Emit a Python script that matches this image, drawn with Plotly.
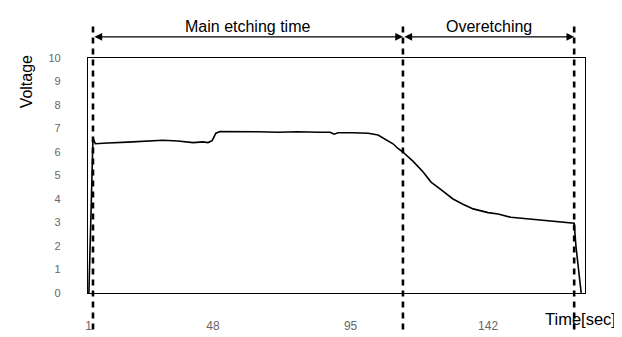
import plotly.graph_objects as go

# Time (s) and measured voltage
time_s = [5.6, 7.0, 7.8, 8.7, 12.1, 18.9, 25.8, 30.9, 36.0, 41.2, 44.6, 46.3, 47.7, 49.0, 50.4,
          56.5, 63.4, 70.2, 77.0, 83.9, 88.0, 89.4, 90.7, 95.8, 101.0, 104.4, 106.8, 109.5,
          111.2, 112.9, 114.6, 116.4, 119.8, 122.5, 125.9, 130.0, 133.4, 136.9, 142.0, 145.4,
          149.8, 154.0, 159.1, 164.2, 170.4, 171.4, 172.0, 173.8]
voltage = [0.0, 6.6, 6.35, 6.35, 6.38, 6.42, 6.46, 6.5, 6.47, 6.4, 6.43, 6.4, 6.48, 6.8, 6.87,
           6.88, 6.86, 6.84, 6.86, 6.84, 6.84, 6.76, 6.82, 6.82, 6.8, 6.72, 6.56, 6.35,
           6.15, 6.0, 5.8, 5.6, 5.15, 4.72, 4.4, 4.0, 3.78, 3.58, 3.42, 3.36,
           3.22, 3.17, 3.1, 3.05, 2.99, 2.97, 2.0, 0.0]

phase_bounds = [7.0, 112.9, 171.4]
phase_labels = ["Main etching time", "Overetching"]

x_tickvals = [5.5, 48, 95, 142]
x_ticktext = ["1", "48", "95", "142"]
y_tickvals = [0, 1, 2, 3, 4, 5, 6, 7, 8, 9, 10]

FONT = "Liberation Sans, Arial, sans-serif"

fig = go.Figure()
fig.add_trace(go.Scatter(x=time_s, y=voltage, mode="lines",
                         line=dict(color="black", width=1.6), showlegend=False,
                         hoverinfo="skip"))

shapes = []
for b in phase_bounds:
    shapes.append(dict(type="line", xref="x", yref="paper", x0=b, x1=b, y0=-0.155, y1=1.15,
                       line=dict(color="black", width=2.6, dash="6px,5px")))

annotations = []
for i, lab in enumerate(phase_labels):
    a, b = phase_bounds[i], phase_bounds[i + 1]
    annotations.append(dict(x=(a + b) / 2, y=1.135, xref="x", yref="paper", text=lab,
                            xanchor="center", yanchor="middle",
                            showarrow=False, font=dict(family=FONT, size=16, color="black")))
    annotations.append(dict(x=b, y=1.09, xref="x", yref="paper", ax=a, ay=0,
                            axref="x", ayref="pixel", text="", showarrow=True,
                            arrowside="end+start", arrowhead=2, arrowsize=1.4,
                            arrowwidth=1.1, arrowcolor="black", standoff=0, startstandoff=0))

annotations.append(dict(x=-0.123, y=0.9, xref="paper", yref="paper", text="Voltage",
                        xanchor="center", yanchor="middle", textangle=-90, showarrow=False,
                        font=dict(family=FONT, size=16, color="black")))
annotations.append(dict(x=0.99, y=-0.11, xref="paper", yref="paper", text="Time[sec]",
                        xanchor="center", yanchor="middle",
                        showarrow=False, font=dict(family=FONT, size=16.5, color="black")))

fig.update_layout(
    width=622, height=337,
    margin=dict(l=80, r=45, t=50, b=42),
    paper_bgcolor="white", plot_bgcolor="white",
    shapes=shapes, annotations=annotations,
    xaxis=dict(range=[5.3, 175.1], showgrid=False, zeroline=False,
               showline=True, linecolor="black", linewidth=1.2, mirror=True,
               tickvals=x_tickvals, ticktext=x_ticktext, ticks="",
               ticklabelstandoff=21,
               tickfont=dict(family=FONT, size=12, color="#666")),
    yaxis=dict(range=[0, 10], showgrid=False, zeroline=False,
               showline=True, linecolor="black", linewidth=1.2, mirror=True,
               tickvals=y_tickvals, ticks="", ticklabelstandoff=24,
               tickfont=dict(family=FONT, size=11, color="#666")),
)

fig.write_html("out.html")
